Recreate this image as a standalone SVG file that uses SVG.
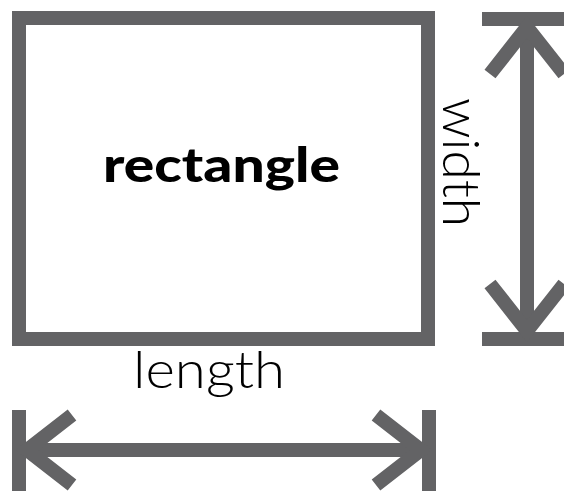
<svg xmlns="http://www.w3.org/2000/svg" width="564" height="491" viewBox="0 0 564 491">
<style>
.g{stroke:#636365;stroke-width:14;fill:none;stroke-linecap:butt}
.lbl{font-family:Lato,"Liberation Sans",sans-serif;fill:#000}
.thin{font-weight:300;font-size:52px}
.bold{font-weight:900;font-size:48px}
</style>
<rect width="564" height="491" fill="#fff"/>
<g id="rectangle">
<rect class="g" x="19" y="18" width="409" height="321"/>
<text class="lbl bold" x="103" y="182" textLength="237" lengthAdjust="spacingAndGlyphs">rectangle</text>
</g>
<g id="width-label">
<text class="lbl thin" transform="translate(443,98) rotate(90)" x="0" y="0" textLength="129" lengthAdjust="spacingAndGlyphs">width</text>
</g>
<g id="length-label">
<text class="lbl thin" x="133" y="388" textLength="152" lengthAdjust="spacingAndGlyphs">length</text>
</g>
<g id="connectors">
<g id="width-arrow">
<line class="g" x1="482" y1="19" x2="570" y2="19"/>
<line class="g" x1="482" y1="339" x2="570" y2="339"/>
<line class="g" x1="527" y1="19" x2="527" y2="339"/>
<polyline class="g" points="490,74 527,27 564,74"/>
<polyline class="g" points="490,284 527,331 564,284"/>
</g>
<g id="length-arrow">
<line class="g" x1="19" y1="410" x2="19" y2="495"/>
<line class="g" x1="429" y1="410" x2="429" y2="495"/>
<line class="g" x1="19" y1="450" x2="429" y2="450"/>
<polyline class="g" points="72,415 27,450 72,485"/>
<polyline class="g" points="376,415 421,450 376,485"/>
</g>
</g>
</svg>
